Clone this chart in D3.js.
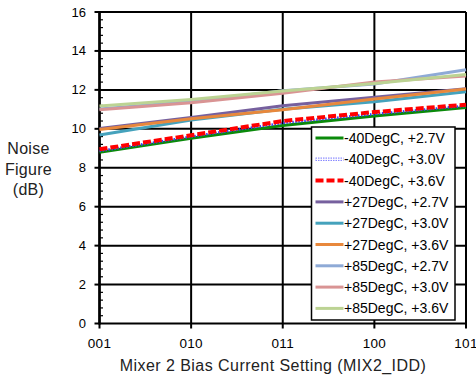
<!DOCTYPE html>
<html>
<head>
<meta charset="utf-8">
<script src="https://cdn.jsdelivr.net/npm/d3@7"></script>
<style>
  html, body { margin: 0; padding: 0; background: #fff; }
  svg { display: block; font-family: "Liberation Sans", Arial, sans-serif; }
</style>
</head>
<body>
<svg id="chart" width="476" height="375"></svg>
<script>
// MIX2_IDD settings along the x axis
const settings = ["001", "010", "011", "100", "101"];
const yTicks = [0, 2, 4, 6, 8, 10, 12, 14, 16];

// Noise figure (dB) per temperature / supply combination
const seriesNames = [
  "-40DegC, +2.7V", "-40DegC, +3.0V", "-40DegC, +3.6V",
  "+27DegC, +2.7V", "+27DegC, +3.0V", "+27DegC, +3.6V",
  "+85DegC, +2.7V", "+85DegC, +3.0V", "+85DegC, +3.6V"
];
const nfM40_27 = [8.79, 9.52, 10.17, 10.66, 11.10];
const nfM40_30 = [8.86, 9.60, 10.30, 10.76, 11.18];
const nfM40_36 = [8.95, 9.67, 10.40, 10.86, 11.24];
const nf27_27  = [10.02, 10.58, 11.19, 11.62, 12.06];
const nf27_30  = [9.68, 10.45, 11.00, 11.39, 11.90];
const nf27_36  = [9.97, 10.52, 10.98, 11.53, 12.04];
const nf85_27  = [11.02, 11.40, 11.95, 12.30, 13.03];
const nf85_30  = [10.98, 11.34, 11.83, 12.40, 12.71];
const nf85_36  = [11.17, 11.51, 11.94, 12.33, 12.79];

const seriesValues = [nfM40_27, nfM40_30, nfM40_36, nf27_27, nf27_30, nf27_36, nf85_27, nf85_30, nf85_36];
const seriesColors = ["#0a8a0a", "#3a3aff", "#ff0000", "#76609e", "#45a2bc", "#e8883c", "#8eaad6", "#d99494", "#bcd393"];
const seriesWidths = [3, 2.5, 4, 3, 3, 3, 3, 3, 3];
const seriesDash   = [null, "1.5,1.5", "8,3", null, null, null, null, null, null];

const svg = d3.select("#chart");
const plotLeft = 99.5, plotRight = 466, plotTop = 12, plotBottom = 323.5;

const x = d3.scalePoint().domain(settings).range([plotLeft, plotRight]);
const y = d3.scaleLinear().domain([0, 16]).range([plotBottom, plotTop]);

// grid
const g = svg.append("g");
g.selectAll("line.hgrid").data(yTicks).join("line")
  .attr("x1", plotLeft).attr("x2", plotRight)
  .attr("y1", d => y(d)).attr("y2", d => y(d))
  .attr("stroke", "#000").attr("stroke-width", 2);
g.selectAll("line.vgrid").data(settings).join("line")
  .attr("x1", d => x(d)).attr("x2", d => x(d))
  .attr("y1", plotTop).attr("y2", plotBottom + 5)
  .attr("stroke", "#000").attr("stroke-width", 2);

// y axis: outward major ticks, inward minor ticks
g.selectAll("line.ymaj").data(yTicks).join("line")
  .attr("x1", plotLeft - 5).attr("x2", plotLeft)
  .attr("y1", d => y(d)).attr("y2", d => y(d))
  .attr("stroke", "#000").attr("stroke-width", 2);
const minorTicks = d3.range(0, 16.001, 0.4).filter(v => Math.abs(v / 2 - Math.round(v / 2)) > 1e-6);
g.selectAll("line.ymin").data(minorTicks).join("line")
  .attr("x1", plotLeft).attr("x2", plotLeft + 3.5)
  .attr("y1", d => y(d)).attr("y2", d => y(d))
  .attr("stroke", "#000").attr("stroke-width", 1.2);
g.append("line").attr("x1", plotLeft).attr("x2", plotLeft).attr("y1", plotTop - 1).attr("y2", plotBottom + 1)
  .attr("stroke", "#000").attr("stroke-width", 2.5);

// tick labels
g.selectAll("text.ylab").data(yTicks).join("text")
  .attr("x", 86).attr("y", d => y(d) + 4.5)
  .attr("text-anchor", "end").attr("font-size", 13).attr("fill", "#000")
  .text(d => d);
g.selectAll("text.xlab").data(settings).join("text")
  .attr("x", d => x(d)).attr("y", 348)
  .attr("text-anchor", "middle").attr("font-size", 13.5).attr("letter-spacing", 0.3).attr("fill", "#000")
  .text(d => d);

// axis titles
svg.append("text").attr("x", 273).attr("y", 371).attr("text-anchor", "middle")
  .attr("font-size", 16).attr("letter-spacing", 0.45).attr("fill", "#222")
  .text("Mixer 2 Bias Current Setting (MIX2_IDD)");
const yTitle = svg.append("text").attr("text-anchor", "middle").attr("font-size", 16)
  .attr("letter-spacing", 0.3).attr("fill", "#222");
["Noise", "Figure", "(dB)"].forEach((t, i) => {
  yTitle.append("tspan").attr("x", 28.5).attr("y", 154 + i * 20.5).text(t);
});

// series lines
const line = d3.line().x((d, i) => x(settings[i])).y(d => y(d));
const plot = svg.append("g");
seriesValues.forEach((vals, k) => {
  plot.append("path").datum(vals)
    .attr("d", line).attr("fill", "none")
    .attr("stroke", seriesColors[k]).attr("stroke-width", seriesWidths[k])
    .attr("stroke-dasharray", seriesDash[k]);
});

// legend
const lg = svg.append("g");
lg.append("rect").attr("x", 311.5).attr("y", 127).attr("width", 143.5).attr("height", 193)
  .attr("fill", "#fff").attr("stroke", "#000").attr("stroke-width", 1.5);
seriesNames.forEach((name, k) => {
  const cy = 138 + k * 21.3;
  if (k === 1) {
    lg.append("line").attr("x1", 315.5).attr("x2", 343.5).attr("y1", cy).attr("y2", cy)
      .attr("stroke", "#8a8aff").attr("stroke-width", 3.5).attr("stroke-dasharray", "1.5,1");
    lg.append("line").attr("x1", 315.5).attr("x2", 343.5).attr("y1", cy).attr("y2", cy)
      .attr("stroke", "#fff").attr("stroke-width", 1.2);
  } else {
    lg.append("line").attr("x1", 315.5).attr("x2", 343.5).attr("y1", cy).attr("y2", cy)
      .attr("stroke", seriesColors[k]).attr("stroke-width", seriesWidths[k])
      .attr("stroke-dasharray", seriesDash[k]);
  }
  lg.append("text").attr("x", 344).attr("y", cy + 5).attr("font-size", 14).attr("fill", "#000")
    .text(name);
});
</script>
</body>
</html>
